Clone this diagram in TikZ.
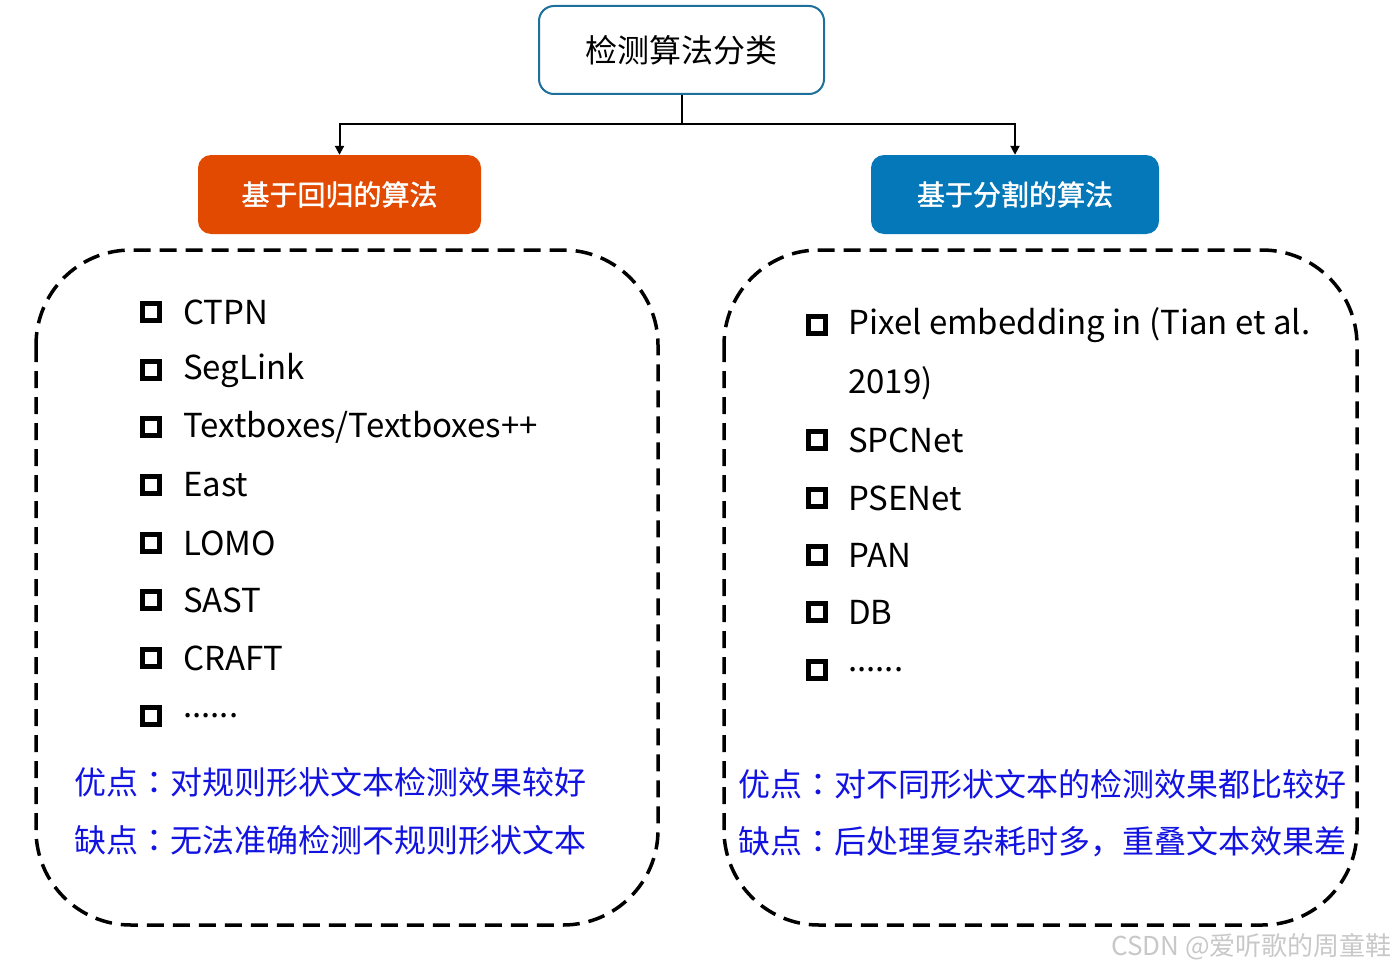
\documentclass[tikz,border=0pt]{standalone}
\usepackage{fontspec}
\setmainfont{Noto Sans CJK SC}
\newfontfamily\tcfont{Noto Sans CJK TC}
\newfontfamily\medcjk[FakeBold=1.5]{Noto Sans CJK SC}
\usetikzlibrary{arrows.meta}
\definecolor{topc}{RGB}{28,112,155}
\definecolor{orangec}{RGB}{225,74,0}
\definecolor{bluec}{RGB}{4,120,185}
\definecolor{textblue}{RGB}{18,18,225}
\definecolor{wm}{RGB}{200,200,200}
\newcommand{\cc}{{\tcfont ：}}
\newcommand{\sixdots}{.\kern0pt.\kern0pt.\kern0pt.\kern0pt.\kern0pt.}
\tikzset{
  topbox/.style={draw=topc,line width=2pt,rounded corners=15pt,fill=white,minimum width=285pt,minimum height=88pt,inner sep=0pt,font=\fontsize{32}{38}\selectfont},
  catbox/.style={rounded corners=13pt,minimum width=283pt,minimum height=79pt,inner sep=0pt,text=white,font=\medcjk\fontsize{28}{34}\selectfont},
  group/.style={draw=black,line width=3.5pt,dash pattern=on 17pt off 9pt,rounded corners=95pt},
  bul/.style={draw=black,line width=4.5pt,minimum size=17pt,inner sep=0pt},
  item/.style={anchor=west,inner sep=0pt,font=\fontsize{33}{38}\selectfont},
  note/.style={anchor=west,inner sep=0pt,text=textblue,font=\fontsize{32}{38}\selectfont},
  conn/.style={draw=black,line width=2pt},
  tip/.style={-{Triangle[width=9pt,length=9pt]}}
}
\begin{document}
\begin{tikzpicture}[x=1pt,y=-1pt]
\useasboundingbox (0,0) rectangle (1396,971);
\node[topbox] (top) at (681.5,50) {检测算法分类};
\node[catbox,fill=orangec] (reg) at (339.5,194.5) {基于回归的算法};
\node[catbox,fill=bluec,minimum width=288pt] (seg) at (1015,194.5) {基于分割的算法};
\coordinate (mid) at (681.5,124);
\draw[conn] (top.south) -- (mid);
\draw[conn,tip] (mid) -| (reg.north);
\draw[conn,tip] (mid) -| (seg.north);
\draw[group] (36,250) rectangle (658,925);
\draw[group] (724,250) rectangle (1357,925);
% left items
\foreach \y/\t [count=\i] in {312/CTPN,370/SegLink,427/{Textboxes/Textboxes++},485/East,543/LOMO,600/SAST,658/CRAFT,716/{\sixdots}}{
  \node[bul] (lb\i) at (151,\y) {};
  \node[item] (lt\i) at (183,\y) {\t};
}
% right items
\node[bul] (rb1) at (817,325) {};
\node[item] (rt1) at (848,325) {Pixel embedding in (Tian et al.};
\node[item] (rt1b) at (848,383) {2019)};
\foreach \y/\t [count=\i from 2] in {440/SPCNet,498/PSENet,555/PAN,612/DB,670/{\sixdots}}{
  \node[bul] (rb\i) at (817,\y) {};
  \node[item] (rt\i) at (848,\y) {\t};
}
\node[note] (lp) at (74,782) {优点\cc 对规则形状文本检测效果较好};
\node[note] (lc) at (74,840) {缺点\cc 无法准确检测不规则形状文本};
\node[note] (rp) at (738,784) {优点\cc 对不同形状文本的检测效果都比较好};
\node[note] (rc) at (738,842) {缺点\cc 后处理复杂耗时多，重叠文本效果差};
\node[anchor=east,inner sep=0pt,text=wm,font=\fontsize{26}{30}\selectfont] (wmk) at (1392,947) {CSDN @爱听歌的周童鞋};
\end{tikzpicture}
\end{document}
